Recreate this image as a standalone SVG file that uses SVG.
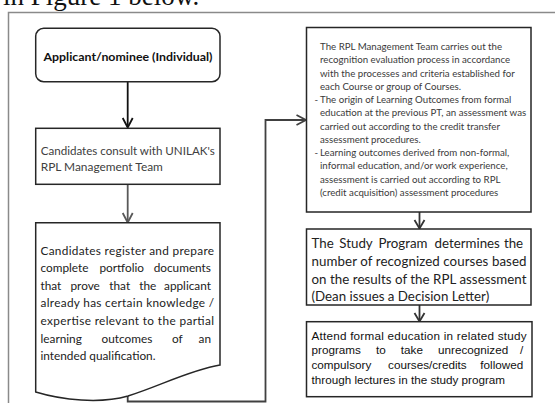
<svg xmlns="http://www.w3.org/2000/svg" width="555" height="403" viewBox="0 0 555 403">
<defs>
<style>
.box{fill:#fff;stroke:#262626;stroke-width:1.5}
.cal{font-family:Lato,"Open Sans","Liberation Sans",sans-serif}
.ari{font-family:"Liberation Sans",Arial,sans-serif}
.conn{fill:none;stroke-width:1.8}
.head{fill:none;stroke-width:1.8;stroke-linejoin:miter}
</style>
</defs>
<rect width="555" height="403" fill="#fff"/>
<text x="3" y="4.5" font-family="'Liberation Serif',serif" font-size="27" fill="#111">in Figure 1 below.</text>
<rect x="8.5" y="12.5" width="600" height="500" fill="none" stroke="#8a8a8a" stroke-width="1.5"/>

<g id="connectors">
<path class="conn" stroke="#111" d="M127.7,81.7 V127"/>
<path class="head" stroke="#111" d="M122.7,118 L127.7,127.5 L132.7,118"/>
<path class="conn" stroke="#595959" d="M127.7,184.3 V222"/>
<path class="head" stroke="#595959" d="M122.7,213 L127.7,222.5 L132.7,213"/>
<path class="conn" stroke="#404040" d="M127.7,396 V401.5 H265.5 V120 H305.5"/>
<path class="head" stroke="#404040" d="M296.5,115 L306,120 L296.5,125"/>
<path class="conn" stroke="#333" d="M419.5,212 V228"/>
<path class="head" stroke="#333" d="M414.5,220 L419.5,228.5 L424.5,220"/>
<path class="conn" stroke="#333" d="M419.5,305 V321"/>
<path class="head" stroke="#333" d="M414.5,313 L419.5,321.5 L424.5,313"/>
</g>

<g id="node1">
<rect class="box" x="35.7" y="28.3" width="184.3" height="53.4" rx="8" ry="8"/>
<text class="cal" x="128" y="60.5" font-size="12" font-weight="bold" text-anchor="middle" fill="#111" textLength="169" lengthAdjust="spacingAndGlyphs">Applicant/nominee (Individual)</text>
</g>

<g id="node2">
<rect class="box" x="35.7" y="128.3" width="184.3" height="56" stroke="#111"/>
<text class="cal" font-size="11.9" fill="#404040">
<tspan x="40.7" y="154.5" textLength="174" lengthAdjust="spacingAndGlyphs">Candidates consult with UNILAK's</tspan>
<tspan x="40.7" y="170.5">RPL Management Team</tspan>
</text>
</g>

<g id="node3">
<path class="box" d="M35.7,222.7 H220 V365 C190,370 160,386 128,396 C100,404 62,400 35.7,392 Z"/>
<text class="cal" font-size="11.8" fill="#222">
<tspan x="40.5" y="254.5" textLength="173.5" lengthAdjust="spacing">Candidates register and prepare</tspan>
<tspan x="40.5" y="272.1">complete</tspan><tspan x="99.5" y="272.1">portfolio</tspan><tspan x="214" y="272.1" text-anchor="end">documents</tspan>
<tspan x="40.5" y="289.7">that</tspan><tspan x="70.5" y="289.7">prove</tspan><tspan x="109.3" y="289.7">that</tspan><tspan x="139.3" y="289.7">the</tspan><tspan x="214" y="289.7" text-anchor="end">applicant</tspan>
<tspan x="40.5" y="307.3" textLength="173.5" lengthAdjust="spacing">already has certain knowledge /</tspan>
<tspan x="40.5" y="324.9" textLength="173.5" lengthAdjust="spacing">expertise relevant to the partial</tspan>
<tspan x="40.5" y="342.5">learning</tspan><tspan x="101.6" y="342.5">outcomes</tspan><tspan x="172" y="342.5">of</tspan><tspan x="214" y="342.5" text-anchor="end">an</tspan>
<tspan x="40.5" y="360.1">intended qualification.</tspan>
</text>
</g>

<g id="node4">
<rect class="box" x="306.5" y="27.5" width="224.5" height="184.5" stroke="#1a1a1a"/>
<text class="cal" font-size="9.7" fill="#3a3a3a">
<tspan x="320" y="50">The RPL Management Team carries out the</tspan>
<tspan x="320" y="63.25">recognition evaluation process in accordance</tspan>
<tspan x="320" y="76.5">with the processes and criteria established for</tspan>
<tspan x="320" y="89.75">each Course or group of Courses.</tspan>
<tspan x="314.5" y="103">-</tspan><tspan x="320" y="103">The origin of Learning Outcomes from formal</tspan>
<tspan x="320" y="116.25">education at the previous PT, an assessment was</tspan>
<tspan x="320" y="129.5">carried out according to the credit transfer</tspan>
<tspan x="320" y="142.75">assessment procedures.</tspan>
<tspan x="314.5" y="156">-</tspan><tspan x="320" y="156">Learning outcomes derived from non-formal,</tspan>
<tspan x="320" y="169.25">informal education, and/or work experience,</tspan>
<tspan x="320" y="182.5">assessment is carried out according to RPL</tspan>
<tspan x="320" y="195.75">(credit acquisition) assessment procedures</tspan>
</text>
</g>

<g id="node5">
<rect class="box" x="306.5" y="229" width="224.5" height="76"/>
<text class="cal" font-size="13.3" fill="#222">
<tspan x="311.5" y="248">The</tspan><tspan x="339.3" y="248">Study</tspan><tspan x="378.4" y="248">Program</tspan><tspan x="434.5" y="248">determines</tspan><tspan x="526.5" y="248" text-anchor="end">the</tspan>
<tspan x="311.5" y="265.8" textLength="215" lengthAdjust="spacing">number of recognized courses based</tspan>
<tspan x="311.5" y="283.6" textLength="215" lengthAdjust="spacing">on the results of the RPL assessment</tspan>
<tspan x="311.5" y="301.4">(Dean issues a Decision Letter)</tspan>
</text>
</g>

<g id="node6">
<rect class="box" x="306.5" y="321.7" width="225.5" height="75"/>
<text class="ari" font-size="11.7" fill="#111">
<tspan x="311.5" y="339.8" textLength="215" lengthAdjust="spacing">Attend formal education in related study</tspan>
<tspan x="311.5" y="354.4">programs</tspan><tspan x="376" y="354.4">to</tspan><tspan x="400.8" y="354.4">take</tspan><tspan x="438" y="354.4">unrecognized</tspan><tspan x="526.5" y="354.4" text-anchor="end">/</tspan>
<tspan x="311.5" y="369">compulsory</tspan><tspan x="388.1" y="369">courses/credits</tspan><tspan x="526.5" y="369" text-anchor="end">followed</tspan>
<tspan x="311.5" y="383.6">through lectures in the study program</tspan>
</text>
</g>
</svg>
